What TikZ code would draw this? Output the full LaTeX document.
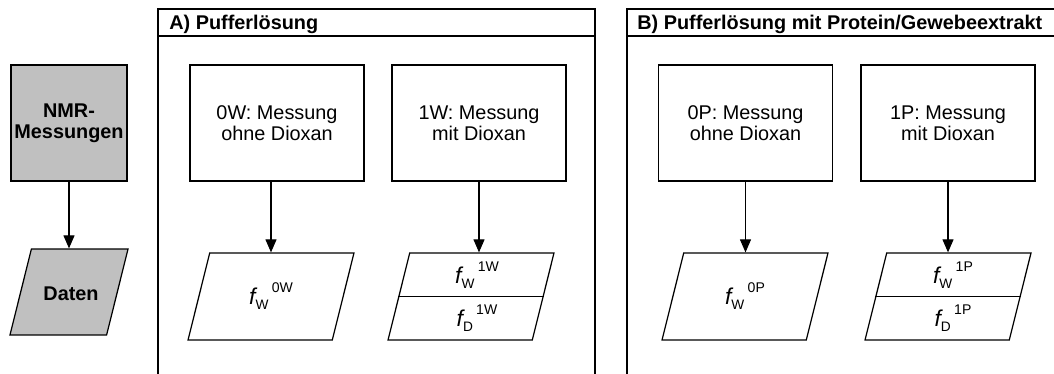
\documentclass[tikz,border=0pt]{standalone}
\usepackage{fontspec}
\setmainfont{Liberation Sans}
\usepackage{tikz}
\usetikzlibrary{positioning,arrows.meta,shapes.geometric}
\definecolor{nmrGrau}{HTML}{C0C0C0}
\newcommand{\grundschrift}{\fontsize{11.3}{12.2}\selectfont}
\newcommand{\fwert}[2]{{\fontsize{13}{13}\selectfont\itshape f}\raisebox{-2.8pt}{\fontsize{7.8}{8}\selectfont #1}\,\raisebox{7pt}{\fontsize{8}{8}\selectfont #2}}
\tikzset{
  messbox/.style={draw,line width=0.7pt,minimum width=3.48cm,minimum height=2.32cm,
    inner sep=0pt,align=center},
  datenbox/.style={draw,line width=0.7pt,trapezium,trapezium left angle=76,
    trapezium right angle=104,inner xsep=1.226cm,inner ysep=0.87cm},
  pfeil/.style={-{Triangle[length=0.26cm,width=0.22cm]},line width=0.6pt},
  rahmen/.style={line width=1.1pt},
  titel/.style={font=\grundschrift\bfseries,anchor=base west,inner sep=0pt}
}
\begin{document}
\begin{tikzpicture}[x=0.02cm,y=-0.02cm,font=\grundschrift]
  \clip (0,0) rectangle (1054,374);

  % Ablauf links
  \node[messbox,fill=nmrGrau,minimum width=2.32cm,font=\grundschrift\bfseries] (nmr) at (69,123) {NMR-\\Messungen};
  \node[datenbox,fill=nmrGrau,inner xsep=0.752cm,inner ysep=0.86cm] (daten) at (69,292) {};
  \node[font=\grundschrift\bfseries] (datenText) at (71,294) {Daten};
  \draw[pfeil] (nmr) -- (daten);

  % A) Pufferloesung
  \draw[rahmen] (158,9) rectangle (595,420);
  \draw[rahmen] (158,36) -- (595,36);
  \node[titel] (titelA) at (169,30) {A) Pufferlösung};

  \node[messbox] (mess0w) at (277,123) {0W: Messung\\ohne Dioxan};
  \node[messbox] (mess1w) at (479,123) {1W: Messung\\mit Dioxan};
  \node[datenbox] (dat0w) at (271,296.5) {};
  \node[datenbox] (dat1w) at (471,296.5) {};
  \draw[line width=0.7pt] (dat1w.left side) -- (dat1w.right side);
  \node (w0w) at (271,296) {\fwert{W}{0W}};
  \node (w1w) at (477,275) {\fwert{W}{1W}};
  \node (d1w) at (477,318) {\fwert{D}{1W}};

  \draw[pfeil] (dat0w.north |- mess0w.south) -- (dat0w.north);
  \draw[pfeil] (mess1w.south) -- (mess1w.south |- dat1w.north);

  % B) Pufferloesung mit Protein
  \draw[rahmen] (627,9) rectangle (1090,420);
  \draw[rahmen] (627,36) -- (1090,36);
  \node[titel] (titelB) at (637,30) {B) Pufferlösung mit Protein/Gewebeextrakt};

  \node[messbox] (mess0p) at (745.5,123) {0P: Messung\\ohne Dioxan};
  \node[messbox] (mess1p) at (948,123) {1P: Messung\\mit Dioxan};
  \node[datenbox] (dat0p) at (745,296.5) {};
  \node[datenbox] (dat1p) at (948,296.5) {};
  \draw[line width=0.7pt] (dat1p.left side) -- (dat1p.right side);
  \node (w0p) at (745,296) {\fwert{W}{0P}};
  \node (w1p) at (953,275) {\fwert{W}{1P}};
  \node (d1p) at (953,318) {\fwert{D}{1P}};

  \draw[pfeil] (mess0p.south) -- (mess0p.south |- dat0p.north);
  \draw[pfeil] (mess1p.south) -- (mess1p.south |- dat1p.north);
\end{tikzpicture}
\end{document}
